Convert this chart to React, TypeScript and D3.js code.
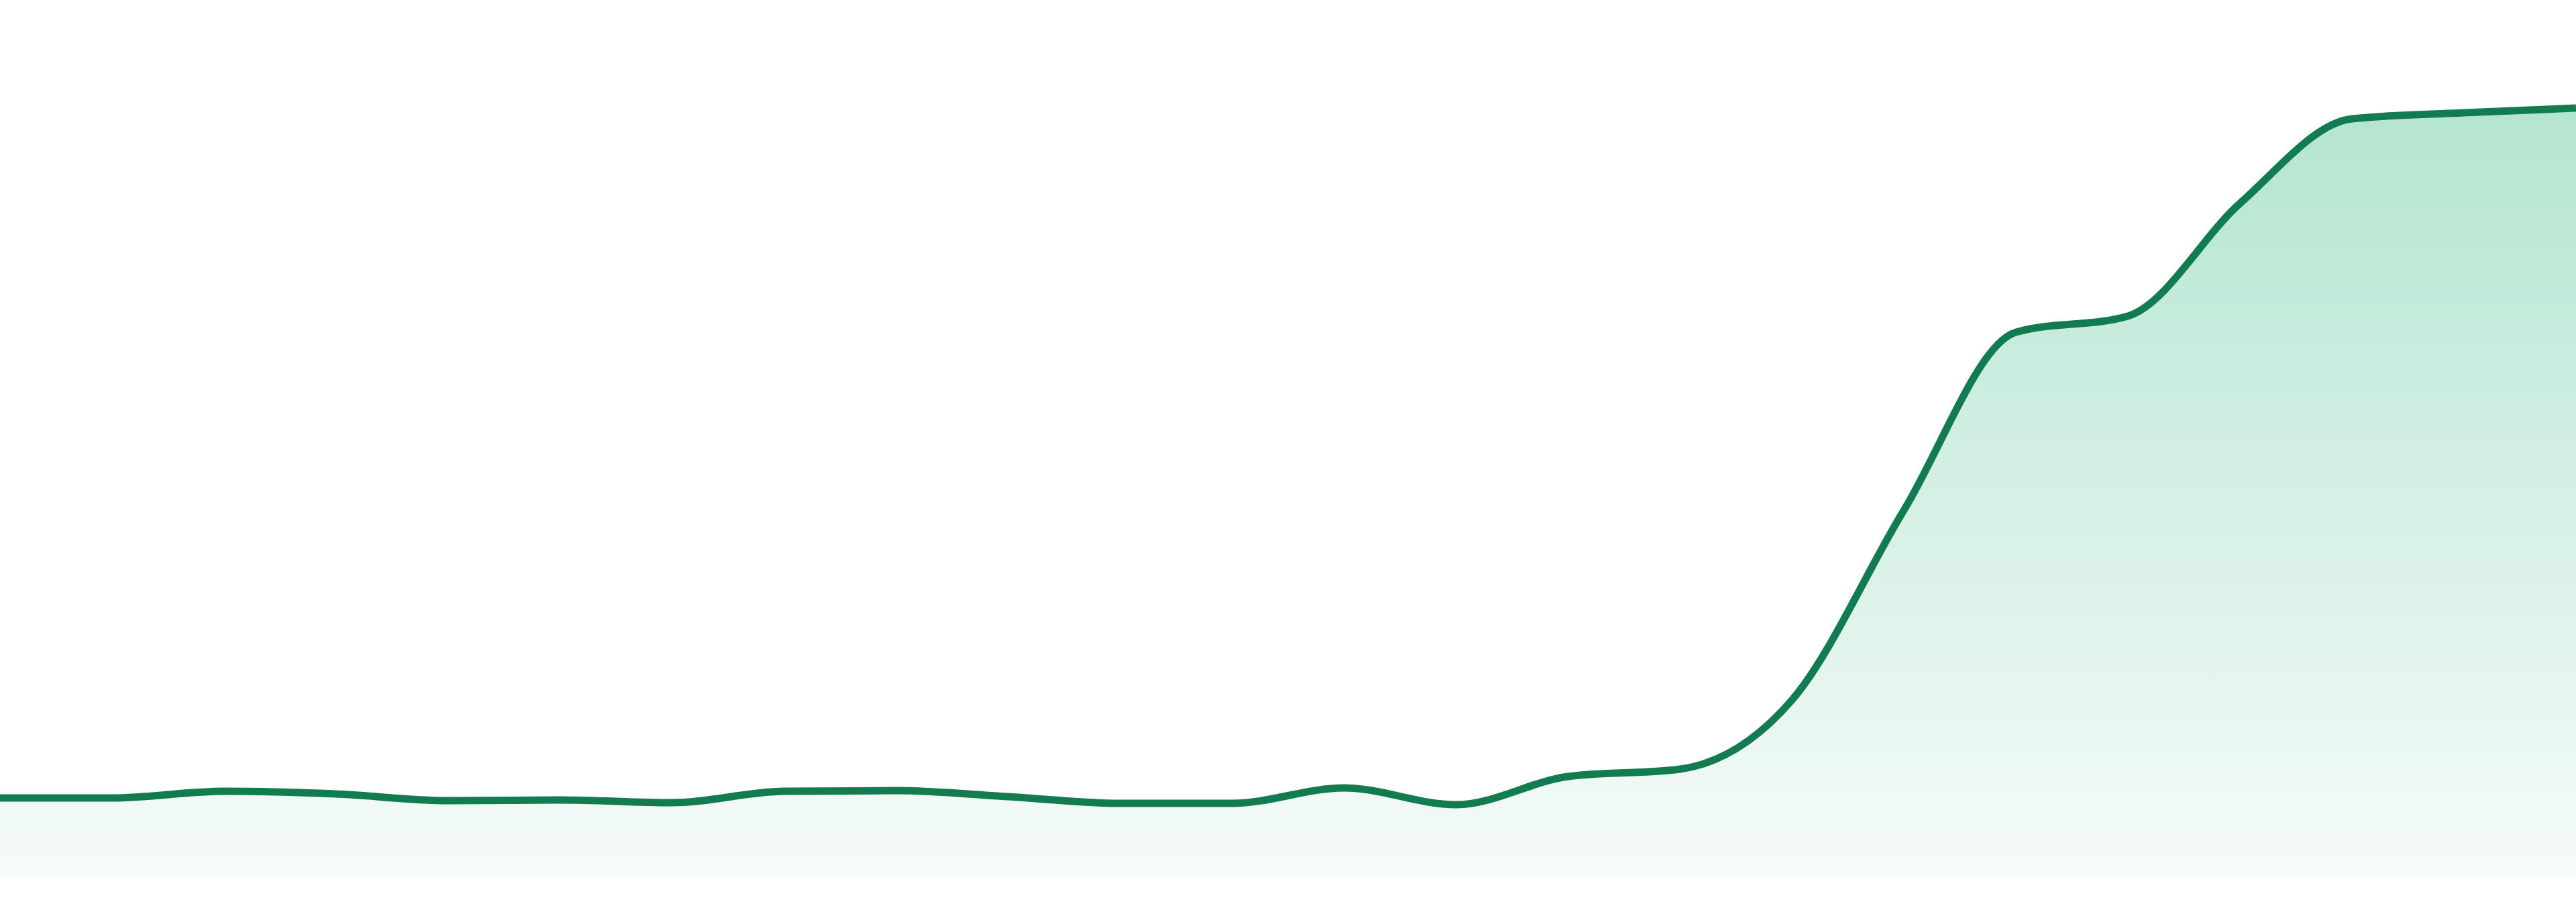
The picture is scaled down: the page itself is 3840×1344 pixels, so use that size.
import React from 'react';
import * as d3 from 'd3';

// sampled points along the series, left to right
const points = d3.range(24);
const values = [
    11.6, 11.6, 12.6, 12.2, 11.2, 11.3, 10.9, 12.6, 12.7, 11.8, 10.8, 10.8,
    13.1, 10.6, 14.8, 15.9, 26.2, 54.5, 81.0, 83.4, 100.2, 112.8, 113.7, 114.4,
];

const width = 3840;
const height = 1344;
const baseline = 1305;

const App: React.FC = () => {
    const xScale = d3.scaleLinear()
        .domain([0, points.length - 1])
        .range([0, width]);

    const yScale = d3.scaleLinear()
        .domain([0, 120])
        .range([baseline, baseline - 1200]);

    const line = d3.line<number>()
        .x((_, i) => xScale(points[i]))
        .y(d => yScale(d))
        .curve(d3.curveMonotoneX);

    const area = d3.area<number>()
        .x((_, i) => xScale(points[i]))
        .y0(yScale(0))
        .y1(d => yScale(d))
        .curve(d3.curveMonotoneX);

    const top = yScale(d3.max(values)!);

    return (
        <svg
            width={width}
            height={height}
            style={{ position: 'absolute', left: 0, top: 0, display: 'block' }}
        >
            <defs>
                <linearGradient id="fillGrad" gradientUnits="userSpaceOnUse" x1={0} y1={top} x2={0} y2={baseline}>
                    <stop offset="0%" stopColor="#b3e5d0" />
                    <stop offset="100%" stopColor="#f6fbf9" />
                </linearGradient>
            </defs>
            <rect width={width} height={height} fill="#ffffff" />
            <path d={area(values)!} fill="url(#fillGrad)" />
            <path d={line(values)!} fill="none" stroke="#127b50" strokeWidth={11} strokeLinejoin="round" />
        </svg>
    );
};

export default App;
